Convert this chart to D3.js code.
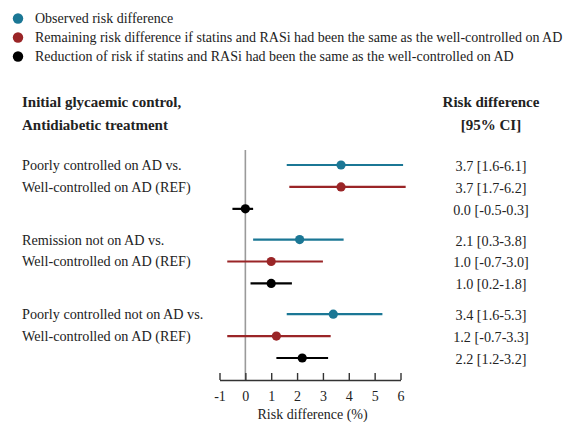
<!DOCTYPE html>
<html lang="en">
<head>
<meta charset="UTF-8">
<title>Risk difference forest plot</title>
<style>
  body { margin: 0; background: #fff; }
  svg text { font-family: 'Liberation Serif', 'Times New Roman', serif; fill: #222; }
</style>
</head>
<body>
<div id="chart"></div>
<script src="https://cdn.jsdelivr.net/npm/d3@7"></script>
<script>
// legend
var seriesNames = ['Observed risk difference',
  'Remaining risk difference if statins and RASi had been the same as the well-controlled on AD',
  'Reduction of risk if statins and RASi had been the same as the well-controlled on AD'];
var seriesColors = ['#1b7795', '#9a2527', '#000000'];

// comparisons (two-line labels)
var groupLine1 = ['Poorly controlled on AD vs.', 'Remission not on AD vs.', 'Poorly controlled not on AD vs.'];
var groupLine2 = ['Well-controlled on AD (REF)', 'Well-controlled on AD (REF)', 'Well-controlled on AD (REF)'];

// estimate, lower, upper  per group x series
var estimates = [[3.7, 3.7, 0.0], [2.1, 1.0, 1.0], [3.4, 1.2, 2.2]];
var lower     = [[1.6, 1.7, -0.5], [0.3, -0.7, 0.2], [1.6, -0.7, 1.2]];
var upper     = [[6.1, 6.2, 0.3], [3.8, 3.0, 1.8], [5.3, 3.3, 3.2]];

var xTicks = [-1, 0, 1, 2, 3, 4, 5, 6];

var w = 570, h = 422;
var svg = d3.select('#chart').append('svg').attr('width', w).attr('height', h)
  .attr('font-family', "'Liberation Serif', serif");

var x = d3.scaleLinear().domain([-1, 6]).range([219.5, 400.5]);
// slot position: groups separated by a gap
var y = d3.scaleLinear().domain([0, 8.8]).range([165, 358]);
var slot = (g, k) => g * 3.4 + k;

// plain hyphen for negatives, like the original
var fmt = v => d3.format('.1f')(v).replace('\u2212', '-');

// legend
var leg = svg.append('g').selectAll('g').data(seriesNames).join('g')
  .attr('transform', (d, i) => 'translate(0,' + (18.5 + i * 19) + ')');
leg.append('circle').attr('cx', 18).attr('cy', 0).attr('r', 5.2)
  .attr('fill', (d, i) => seriesColors[i]);
leg.append('text').attr('x', 35).attr('y', 0).attr('dy', '0.35em')
  .style('font-size', '14px').text(d => d);

// headers
var hdr = svg.append('g').style('font-weight', 'bold').style('font-size', '15px');
hdr.append('text').attr('x', 22).attr('y', 102).attr('dy', '0.35em').text('Initial glycaemic control,');
hdr.append('text').attr('x', 22).attr('y', 125).attr('dy', '0.35em').text('Antidiabetic treatment');
hdr.append('text').attr('x', 491).attr('y', 102).attr('dy', '0.35em').attr('text-anchor', 'middle').text('Risk difference');
hdr.append('text').attr('x', 491).attr('y', 125).attr('dy', '0.35em').attr('text-anchor', 'middle').text('[95% CI]');

// row labels
var lab = svg.append('g').style('font-size', '14.2px');
groupLine1.forEach(function(t, g) {
  lab.append('text').attr('x', 22).attr('y', y(slot(g, 0))).attr('dy', '0.35em').text(t);
  lab.append('text').attr('x', 22).attr('y', y(slot(g, 1))).attr('dy', '0.35em').text(groupLine2[g]);
});

// reference line at 0
svg.append('line')
  .attr('x1', x(0)).attr('x2', x(0)).attr('y1', 150).attr('y2', 380)
  .attr('stroke', '#9a9a9a').attr('stroke-width', 1.6);

// flatten rows
var rows = [];
estimates.forEach(function(ests, g) {
  ests.forEach(function(e, k) {
    rows.push({g: g, k: k, est: e, lo: lower[g][k], hi: upper[g][k]});
  });
});

var marks = svg.append('g').selectAll('g').data(rows).join('g');
marks.append('line')
  .attr('x1', d => x(d.lo)).attr('x2', d => x(d.hi))
  .attr('y1', d => y(slot(d.g, d.k))).attr('y2', d => y(slot(d.g, d.k)))
  .attr('stroke', d => seriesColors[d.k]).attr('stroke-width', 2.2);
marks.append('circle')
  .attr('cx', d => x(d.est)).attr('cy', d => y(slot(d.g, d.k))).attr('r', 4.6)
  .attr('fill', d => seriesColors[d.k]);

// value labels
svg.append('g').selectAll('text').data(rows).join('text')
  .attr('x', 491).attr('y', d => y(slot(d.g, d.k)) + 1).attr('dy', '0.35em')
  .attr('text-anchor', 'middle').style('font-size', '14.2px')
  .text(d => fmt(d.est) + ' [' + fmt(d.lo) + '-' + fmt(d.hi) + ']');

// x axis, ticks point upward
var axis = svg.append('g').attr('transform', 'translate(0,380)')
  .call(d3.axisBottom(x).tickValues(xTicks).tickFormat(d => String(d))
    .tickSizeInner(-7).tickSizeOuter(0).tickPadding(11));
axis.attr('font-family', null);
axis.select('.domain').attr('stroke', '#333').attr('stroke-width', 1.4);
axis.selectAll('.tick line').attr('stroke', '#333').attr('stroke-width', 1.4);
axis.selectAll('.tick text').style('font-size', '14px').attr('fill', '#222');

svg.append('text').attr('x', x(2.6)).attr('y', 418.5)
  .attr('text-anchor', 'middle').style('font-size', '14px').text('Risk difference (%)');
</script>
</body>
</html>
